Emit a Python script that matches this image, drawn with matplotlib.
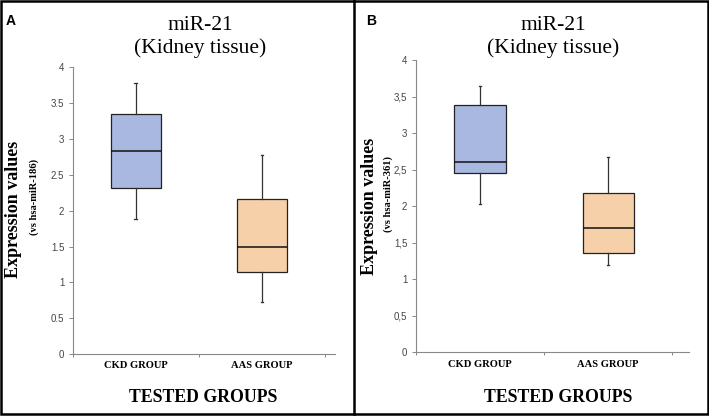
import matplotlib
matplotlib.use("Agg")
import matplotlib.pyplot as plt
from matplotlib.patches import Rectangle
from matplotlib.lines import Line2D

# data (box statistics per group)
groups = ["CKD GROUP", "AAS GROUP"]

# panel A: normalised vs hsa-miR-186
a_whislo = [1.89, 0.73]
a_q1 = [2.32, 1.15]
a_med = [2.83, 1.49]
a_q3 = [3.34, 2.16]
a_whishi = [3.78, 2.77]

# panel B: normalised vs hsa-miR-361
b_whislo = [2.03, 1.20]
b_q1 = [2.45, 1.36]
b_med = [2.61, 1.70]
b_q3 = [3.38, 2.18]
b_whishi = [3.64, 2.67]

yticks = [0, 0.5, 1, 1.5, 2, 2.5, 3, 3.5, 4]
a_ticklabels = ["0", "0.5", "1", "1.5", "2", "2.5", "3", "3.5", "4"]
b_ticklabels = ["0", "0,5", "1", "1,5", "2", "2,5", "3", "3,5", "4"]

box_colors = ["#a8b8e0", "#f5d0a8"]
W, H = 709, 417


def stats(lo, q1, med, q3, hi):
    return [dict(whislo=lo[i], q1=q1[i], med=med[i], q3=q3[i], whishi=hi[i], fliers=[])
            for i in range(len(lo))]


def draw_panel(fig, rect, st, ticklabels, xmax, ref, title_x, xl_x, cat_y, xl_y,
               yl_x, yl2_x, yl_y, yl2_y, letter, letter_x):
    ax = fig.add_axes(rect)
    bp = ax.bxp(st, positions=[1, 2], widths=0.4, patch_artist=True, showfliers=False,
                boxprops=dict(linewidth=0.9, edgecolor="#222222"),
                medianprops=dict(color="#111111", linewidth=1.1),
                whiskerprops=dict(color="#333333", linewidth=0.9),
                capprops=dict(color="#333333", linewidth=0.9), capwidths=0.02)
    for patch, c in zip(bp["boxes"], box_colors):
        patch.set_facecolor(c)
    ax.set_xlim(0.5, xmax)
    ax.set_ylim(0, 4)
    ax.set_yticks(yticks)
    ax.set_yticklabels(ticklabels, fontsize=7, color="#444444", family="Liberation Sans")
    ax.set_xticks([0.5, 1.5, 2.5])
    ax.set_xticklabels([])
    ax.tick_params(axis="y", length=3, width=0.7, color="#888888", pad=3)
    ax.tick_params(axis="x", length=2.5, width=0.7, color="#888888")
    for s in ["top", "right"]:
        ax.spines[s].set_visible(False)
    for s in ["left", "bottom"]:
        ax.spines[s].set_color("#888888")
        ax.spines[s].set_linewidth(0.8)

    serif = "Liberation Serif"
    fig.text(title_x / W, 1 - 25 / H, "miR-21", ha="center", va="center",
             fontsize=15.5, family=serif)
    fig.text(title_x / W, 1 - 48 / H, "(Kidney tissue)", ha="center", va="center",
             fontsize=15.5, family=serif)
    for x, g in zip([1, 2], groups):
        xf = fig.transFigure.inverted().transform(ax.transData.transform((x, 0)))[0]
        fig.text(xf, 1 - cat_y / H, g, ha="center", va="center", fontsize=7.6,
                 fontweight="bold", family=serif)
    fig.text(xl_x / W, 1 - xl_y / H, "TESTED GROUPS", ha="center", va="center",
             fontsize=12.8, fontweight="bold", family=serif)
    fig.text(yl_x / W, 1 - yl_y / H, "Expression values", ha="center", va="center",
             rotation=90, fontsize=13, fontweight="bold", family=serif)
    fig.text(yl2_x / W, 1 - yl2_y / H, f"(vs {ref})", ha="center", va="center",
             rotation=90, fontsize=7.6, fontweight="bold", family=serif)
    fig.text(letter_x / W, 1 - 21 / H, letter, ha="center", va="center",
             fontsize=10, fontweight="bold", family="Liberation Sans")
    return ax


fig = plt.figure(figsize=(W / 100, H / 100), dpi=100)

draw_panel(fig, [72.7 / W, 1 - 354.3 / H, (335 - 72.7) / W, (354.3 - 67) / H],
           stats(a_whislo, a_q1, a_med, a_q3, a_whishi), a_ticklabels, 2.58,
           "hsa-miR-186", 200, 203.5, 365.7, 398, 14, 34, 209, 197, "A", 11)
draw_panel(fig, [415.7 / W, 1 - 352.3 / H, (689 - 415.7) / W, (352.3 - 60) / H],
           stats(b_whislo, b_q1, b_med, b_q3, b_whishi), b_ticklabels, 2.63,
           "hsa-miR-361", 553.5, 558, 364.3, 397, 370, 388, 206, 194, "B", 371)

# panel frames
fig.add_artist(Rectangle((1 / W, 3 / H), 707 / W, 413 / H, transform=fig.transFigure,
                         fill=False, edgecolor="black", linewidth=1.8))
fig.add_artist(Line2D([354 / W, 354 / W], [3 / H, 1], transform=fig.transFigure,
                      color="black", linewidth=1.8))

fig.savefig("out.png", dpi=100)
